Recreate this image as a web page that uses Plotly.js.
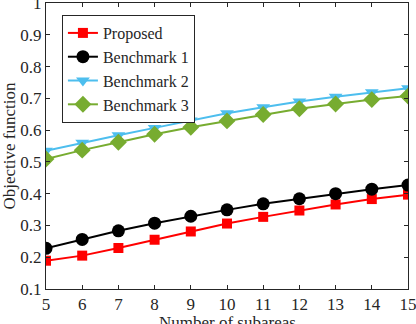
<!DOCTYPE html>
<html>
<head>
<meta charset="utf-8">
<script src="https://cdn.plot.ly/plotly-3.0.1.min.js"></script>
<style>
  html, body { margin: 0; padding: 0; background: #fff; }
  #chart { width: 416px; height: 324px; }
</style>
</head>
<body>
<div id="chart"></div>
<script>
// ---------- datos ----------
const subareas = [5, 6, 7, 8, 9, 10, 11, 12, 13, 14, 15];

const proposed   = [0.189, 0.205, 0.229, 0.255, 0.281, 0.306, 0.327, 0.347, 0.366, 0.383, 0.397];
const benchmark1 = [0.228, 0.256, 0.283, 0.307, 0.329, 0.349, 0.368, 0.384, 0.400, 0.414, 0.427];
const benchmark2 = [0.535, 0.560, 0.584, 0.607, 0.630, 0.653, 0.672, 0.690, 0.705, 0.719, 0.732];
const benchmark3 = [0.509, 0.537, 0.562, 0.587, 0.609, 0.629, 0.649, 0.667, 0.682, 0.696, 0.707];

const nombres = ["Proposed", "Benchmark 1", "Benchmark 2", "Benchmark 3"];
const series = [proposed, benchmark1, benchmark2, benchmark3];
const colores = ["#ff0000", "#000000", "#4dbeee", "#77ac30"];
const simbolos = ["square", "circle", "triangle-down", "diamond"];
const tamanos = [10, 13, 12, 13];

const yTicks = [0.1, 0.2, 0.3, 0.4, 0.5, 0.6, 0.7, 0.8, 0.9, 1];
const yTickText = ["0.1", "0.2", "0.3", "0.4", "0.5", "0.6", "0.7", "0.8", "0.9", "1"];

// ---------- trazas ----------
const trazas = series.map((ys, i) => ({
  x: subareas,
  y: ys,
  type: "scatter",
  mode: "lines+markers",
  name: nombres[i],
  line: { color: colores[i], width: 2 },
  marker: { symbol: simbolos[i], size: tamanos[i], color: colores[i] }
}));

const fuente = { family: "Liberation Serif, Times New Roman, serif", size: 17, color: "#262626" };

const ejeComun = {
  showgrid: false,
  zeroline: false,
  showline: true,
  linecolor: "#262626",
  linewidth: 1,
  mirror: "ticks",
  ticks: "inside",
  ticklen: 4,
  tickcolor: "#262626",
  tickfont: fuente
};

Plotly.newPlot("chart", trazas, {
  width: 416,
  height: 324,
  margin: { l: 46, r: 8, t: 3, b: 35 },
  paper_bgcolor: "#fff",
  plot_bgcolor: "#fff",
  font: fuente,
  xaxis: Object.assign({}, ejeComun, {
    range: [5, 15],
    tickvals: subareas,
    ticklabeloverflow: "allow"
  }),
  yaxis: Object.assign({}, ejeComun, {
    range: [0.1, 1],
    tickvals: yTicks,
    ticktext: yTickText,
    ticklabeloverflow: "allow",
    title: { text: "Objective function", font: fuente, standoff: 4 }
  }),
  // título del eje x, algo más abajo (cortado por el borde como en el original)
  annotations: [{
    text: "Number of subareas",
    xref: "paper",
    yref: "paper",
    x: 0.5,
    y: -0.078,
    xanchor: "center",
    yanchor: "top",
    showarrow: false,
    font: fuente
  }],
  legend: {
    x: 0.044,
    y: 0.958,
    xanchor: "left",
    yanchor: "top",
    bgcolor: "#fff",
    bordercolor: "#262626",
    borderwidth: 1,
    font: Object.assign({}, fuente, { size: 16 }),
    tracegroupgap: 0,
    itemwidth: 30
  },
  showlegend: true
}, { displayModeBar: false, staticPlot: true });
</script>
</body>
</html>
